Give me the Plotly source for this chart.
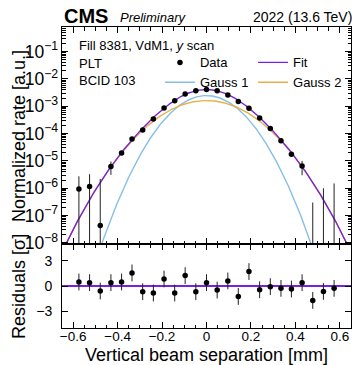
import numpy as np
import plotly.graph_objects as go

# ---------------- data ----------------
scan_x = [-0.574, -0.526, -0.478, -0.430, -0.382, -0.335, -0.287, -0.239, -0.191,
          -0.143, -0.096, -0.048, 0.0, 0.048, 0.096, 0.143, 0.191, 0.239, 0.287,
          0.335, 0.382, 0.430, 0.478, 0.526, 0.574]
rate = [9.3e-7, 1.17e-6, 4.3e-8, 6.3e-6, 1.94e-5, 6.3e-5, 1.35e-4, 3.45e-4, 8.6e-4,
        1.59e-3, 2.8e-3, 3.7e-3, 4.1e-3, 3.7e-3, 2.6e-3, 1.5e-3, 8.5e-4, 3.7e-4,
        1.54e-4, 5.5e-5, 1.74e-5, 6.5e-6, -4.0e-7, -1.2e-6, -5.0e-7]
rate_err = [1.8e-6, 2.1e-6, 2.15e-6, 3.2e-6, 2.5e-6, 4.0e-6, 6.0e-6, 1.0e-5, 1.6e-5,
            2.2e-5, 3.0e-5, 3.4e-5, 3.6e-5, 3.4e-5, 2.9e-5, 2.1e-5, 1.6e-5, 1.0e-5,
            6.5e-6, 4.0e-6, 2.6e-6, 3.5e-6, 7.0e-7, 2.2e-6, 2.0e-6]
residual = [0.48, 0.40, -0.60, 0.40, 0.48, 1.56, -0.68, -0.84, 0.84, -0.84, 1.24, -0.68,
            0.40, -0.48, 0.60, -1.24, 1.72, -0.44, -0.08, -0.28, -0.36, 0.40, -1.72,
            -0.64, -0.28]
residual_err = [1.0, 1.0, 1.0, 1.0, 1.0, 1.0, 1.0, 1.0, 1.0, 1.0, 1.0, 1.0, 1.0,
                1.0, 1.0, 1.0, 1.0, 1.0, 1.0, 1.0, 1.0, 1.0, 1.0, 1.0, 1.0]

# double-Gaussian fit parameters
fit_mean = 0.0
gauss1_amp, gauss1_sigma = 2.47e-3, 0.0943
gauss2_amp, gauss2_sigma = 1.62e-3, 0.1287

x_range = [-0.65, 0.65]
x_tick_vals = [-0.6, -0.4, -0.2, 0, 0.2, 0.4, 0.6]
x_tick_labels = ["−0.6", "−0.4", "−0.2", "0", "0.2", "0.4", "0.6"]
res_tick_vals = [-3, 0, 3]
res_tick_labels = ["−3", "0", "3"]

# ---------------- derived ----------------
FONT = "Liberation Sans, Arial, Helvetica, sans-serif"
C_FIT = "#7a21dd"
C_G1 = "#86bfe6"
C_G2 = "#e8b04a"

xf = np.linspace(x_range[0], x_range[1], 500)
g1 = gauss1_amp * np.exp(-0.5 * ((xf - fit_mean) / gauss1_sigma) ** 2)
g2 = gauss2_amp * np.exp(-0.5 * ((xf - fit_mean) / gauss2_sigma) ** 2)
fit = g1 + g2

r = np.array(rate)
e = np.array(rate_err)
floor = 1e-12
y_plot = np.where(r > 0, r, floor)
err_up = r + e - y_plot
err_dn = np.where(r - e > 0, e, y_plot - floor * 0.01)

fig = go.Figure()
fig.add_trace(go.Scatter(x=xf, y=g1, mode="lines", name="Gauss 1",
                         line=dict(color=C_G1, width=1.4), xaxis="x", yaxis="y",
                         legend="legend", legendrank=2))
fig.add_trace(go.Scatter(x=xf, y=g2, mode="lines", name="Gauss 2",
                         line=dict(color=C_G2, width=1.4), xaxis="x", yaxis="y",
                         legend="legend2", legendrank=2))
fig.add_trace(go.Scatter(x=xf, y=fit, mode="lines", name="Fit",
                         line=dict(color=C_FIT, width=1.4), xaxis="x", yaxis="y",
                         legend="legend2", legendrank=1))
fig.add_trace(go.Scatter(x=scan_x, y=y_plot, mode="markers", name="Data",
                         marker=dict(color="black", size=5.5),
                         error_y=dict(type="data", symmetric=False, array=err_up,
                                      arrayminus=err_dn, color="#222222",
                                      thickness=1, width=0),
                         xaxis="x", yaxis="y", legend="legend", legendrank=1))
fig.add_trace(go.Scatter(x=scan_x, y=residual, mode="markers", showlegend=False,
                         marker=dict(color="black", size=5.5),
                         error_y=dict(type="data", array=residual_err, color="#222222",
                                      thickness=1, width=0),
                         xaxis="x2", yaxis="y2"))

axis_common = dict(showline=True, linecolor="black", linewidth=1, mirror="allticks",
                   ticks="inside", tickcolor="black", tickwidth=1, ticklen=6,
                   showgrid=False, zeroline=False,
                   tickfont=dict(family=FONT, size=14, color="black"))
minor_x = dict(ticks="inside", ticklen=3.5, tickcolor="black", tickwidth=1,
               dtick=0.05, showgrid=False)

fig.update_layout(
    width=352, height=365,
    margin=dict(l=62, r=1, t=27, b=37),
    paper_bgcolor="white", plot_bgcolor="white",
    font=dict(family=FONT, color="black", size=13),
    xaxis=dict(axis_common, domain=[0, 1], anchor="y", matches="x2",
               range=x_range, tick0=0, dtick=0.2, showticklabels=False,
               minor=minor_x),
    yaxis=dict(axis_common, domain=[0.279, 1], anchor="x", type="log",
               range=[-8.04, -0.1], dtick=1, exponentformat="power",
               minor=dict(ticks="inside", ticklen=3.5, tickcolor="black",
                          tickwidth=1, showgrid=False)),
    xaxis2=dict(axis_common, domain=[0, 1], anchor="y2", range=x_range,
                tickvals=x_tick_vals, ticktext=x_tick_labels, minor=minor_x,
                tickfont=dict(family=FONT, size=13.5, color="black"),
                ticklabelstandoff=-4),
    yaxis2=dict(axis_common, domain=[0, 0.279], anchor="x2", range=[-5, 5],
                tickvals=res_tick_vals, ticktext=res_tick_labels,
                zeroline=True, zerolinecolor=C_FIT, zerolinewidth=1.4,
                ticklabelstandoff=6),
    legend=dict(x=0.339, y=0.932, xanchor="left", yanchor="top",
                bgcolor="rgba(0,0,0,0)", borderwidth=0, tracegroupgap=0,
                font=dict(family=FONT, size=13, color="black")),
    legend2=dict(x=0.661, y=0.932, xanchor="left", yanchor="top",
                 bgcolor="rgba(0,0,0,0)", borderwidth=0, tracegroupgap=0,
                 font=dict(family=FONT, size=13, color="black")),
)

ann = [
    dict(text="<b>CMS</b>", x=0.0, y=1.0365, xanchor="left", yanchor="middle",
         font=dict(size=20)),
    dict(text="<i>Preliminary</i>", x=0.194, y=1.033, xanchor="left", yanchor="middle",
         font=dict(size=13)),
    dict(text="2022 (13.6 TeV)", x=1.0104, y=1.033, xanchor="right", yanchor="middle",
         font=dict(size=14)),
    dict(text="Fill 8381, VdM1, <i>y</i> scan", x=0.052, y=0.940, xanchor="left",
         yanchor="middle", font=dict(size=13)),
    dict(text="PLT", x=0.052, y=0.880, xanchor="left", yanchor="middle",
         font=dict(size=13)),
    dict(text="BCID 103", x=0.052, y=0.821, xanchor="left", yanchor="middle",
         font=dict(size=13)),
    dict(text="Normalized rate [a.u.]", x=-0.1488, y=0.638, textangle=-90,
         xanchor="center", yanchor="middle", font=dict(size=18)),
    dict(text="Residuals [σ]", x=-0.1488, y=0.1395, textangle=-90,
         xanchor="center", yanchor="middle", font=dict(size=18)),
    dict(text="Vertical beam separation [mm]", x=0.5, y=-0.089,
         xanchor="center", yanchor="middle", font=dict(size=18)),
]
for a in ann:
    a.update(xref="paper", yref="paper", showarrow=False)
    a["font"] = dict(family=FONT, color="black", size=a["font"]["size"])
fig.update_layout(annotations=ann)

fig.write_html("out.html",
               config={"displayModeBar": False, "staticPlot": True},
               post_script="document.body.style.margin='0';"
                           "document.body.style.overflow='hidden';")
